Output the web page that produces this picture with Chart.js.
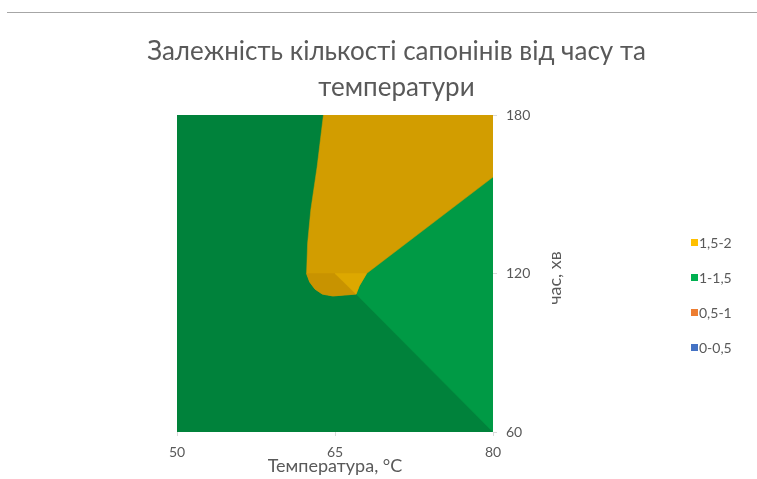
<!DOCTYPE html>
<html>
<head>
<meta charset="utf-8">
<script src="https://cdn.jsdelivr.net/npm/chart.js@4/dist/chart.umd.min.js"></script>
<style>
    html, body { margin: 0; padding: 0; background: #fff; }
    #wrap { position: relative; width: 757px; height: 479px; }
    #rule { position: absolute; left: 7px; right: 0; top: 12px; height: 1px; background: #a6a6a6; }
</style>
</head>
<body>
<div id="wrap">
    <canvas id="contourChart" width="757" height="479"></canvas>
    <div id="rule"></div>
</div>
<script>
// Axis ticks
const temperatureTicks = [50, 65, 80];
const timeTicks = [60, 120, 180];

// Legend bands
const bandLabels = ['1,5-2', '1-1,5', '0,5-1', '0-0,5'];
const bandColors = ['#FFC000', '#00B050', '#ED7D31', '#4472C4'];

// Contour regions (temperature, time)
const baseTemp = [50, 80, 80, 50];
const baseTime = [60, 60, 180, 180];

const highTemp = [63.9, 63.3, 62.7, 62.4, 62.3, 62.6, 63.1, 63.8, 64.8, 67.0, 67.3, 68.0, 80, 80];
const highTime = [180, 160.3, 144.0, 131.5, 120, 116.8, 114.1, 112.2, 111.5, 112.2, 115.3, 120, 156.5, 180];

const highShadeTemp = [62.3, 65.0, 67.0, 64.8, 63.8, 63.1, 62.6];
const highShadeTime = [120, 120, 112.2, 111.5, 112.2, 114.1, 116.8];

const highLightTemp = [65.0, 68.0, 67.3, 67.0];
const highLightTime = [120, 120, 115.3, 112.2];

const midLightTemp = [68.0, 80, 80, 67.0, 67.3];
const midLightTime = [120, 156.5, 60, 112.2, 115.3];

const textColor = '#595959';
const fontFamily = 'Lato, "Liberation Sans", sans-serif';
Chart.defaults.font.family = fontFamily;
Chart.defaults.color = textColor;

function toPolygon(temps, times) {
    const pts = temps.map((t, i) => ({ x: t, y: times[i] }));
    pts.push({ x: temps[0], y: times[0] });
    return pts;
}

function region(label, temps, times, color) {
    return {
        label: label,
        data: toPolygon(temps, times),
        showLine: true,
        fill: 'shape',
        backgroundColor: color,
        borderColor: color,
        borderWidth: 0.5,
        pointRadius: 0,
        pointHoverRadius: 0,
        tension: 0
    };
}

// Y title (reads bottom to top) and legend, drawn like Excel does it
const sideTextPlugin = {
    id: 'sideText',
    afterDraw(chart) {
        const ctx = chart.ctx;
        ctx.save();
        ctx.fillStyle = textColor;
        ctx.font = '18px ' + fontFamily;
        ctx.textAlign = 'center';
        ctx.textBaseline = 'middle';
        ctx.translate(555, 278);
        ctx.rotate(-Math.PI / 2);
        ctx.fillText('час, хв', 0, 0);
        ctx.restore();

        ctx.save();
        ctx.font = '14px ' + fontFamily;
        ctx.textAlign = 'left';
        ctx.textBaseline = 'middle';
        bandLabels.forEach((label, i) => {
            const y = 243 + i * 35;
            ctx.fillStyle = bandColors[i];
            ctx.fillRect(691, y - 4, 7, 7);
            ctx.fillStyle = textColor;
            ctx.fillText(label, 699, y);
        });
        ctx.restore();
    }
};

const ctx = document.getElementById('contourChart').getContext('2d');

new Chart(ctx, {
    type: 'scatter',
    data: {
        datasets: [
            region('shade-light', highLightTemp, highLightTime, '#DDA800'),
            region('shade-dark', highShadeTemp, highShadeTime, '#C89300'),
            region('1,5-2', highTemp, highTime, '#D29D00'),
            region('1-1,5 light', midLightTemp, midLightTime, '#009A45'),
            region('1-1,5', baseTemp, baseTime, '#00823B')
        ]
    },
    options: {
        responsive: false,
        animation: false,
        layout: {
            padding: { left: 36, right: 0, top: 0, bottom: 0 }
        },
        scales: {
            x: {
                type: 'linear',
                min: 50,
                max: 80,
                afterBuildTicks: (scale) => {
                    scale.ticks = temperatureTicks.map(v => ({ value: v }));
                },
                afterFit: (scale) => {
                    scale.height = 47;
                },
                grid: {
                    drawOnChartArea: false,
                    drawTicks: true,
                    tickLength: 4,
                    color: '#d9d9d9'
                },
                border: { display: false },
                ticks: {
                    padding: 8,
                    font: { size: 14 },
                    color: textColor
                },
                title: {
                    display: true,
                    text: 'Температура, °C',
                    font: { size: 18 },
                    color: textColor,
                    padding: { top: 0, bottom: 2 }
                }
            },
            y: {
                type: 'linear',
                position: 'right',
                min: 60,
                max: 180,
                afterBuildTicks: (scale) => {
                    scale.ticks = timeTicks.map(v => ({ value: v }));
                },
                afterFit: (scale) => {
                    scale.width = 264;
                },
                grid: {
                    drawOnChartArea: false,
                    drawTicks: true,
                    tickLength: 4,
                    color: '#d9d9d9'
                },
                border: { display: false },
                ticks: {
                    padding: 9,
                    font: { size: 14 },
                    color: textColor
                }
            },
            // empty spacer on the left so the plot starts where Excel put it
            spacer: {
                type: 'linear',
                position: 'left',
                min: 0,
                max: 1,
                afterFit: (scale) => {
                    scale.width = 141;
                },
                grid: { display: false },
                border: { display: false },
                ticks: { display: false }
            }
        },
        plugins: {
            legend: { display: false },
            tooltip: { enabled: false },
            title: {
                display: true,
                text: ['Залежність кількості сапонінів від часу та', 'температури'],
                color: textColor,
                font: { size: 26, weight: 'normal', lineHeight: 1.385 },
                padding: { top: 34, bottom: 9 }
            }
        }
    },
    plugins: [sideTextPlugin]
});
</script>
</body>
</html>
